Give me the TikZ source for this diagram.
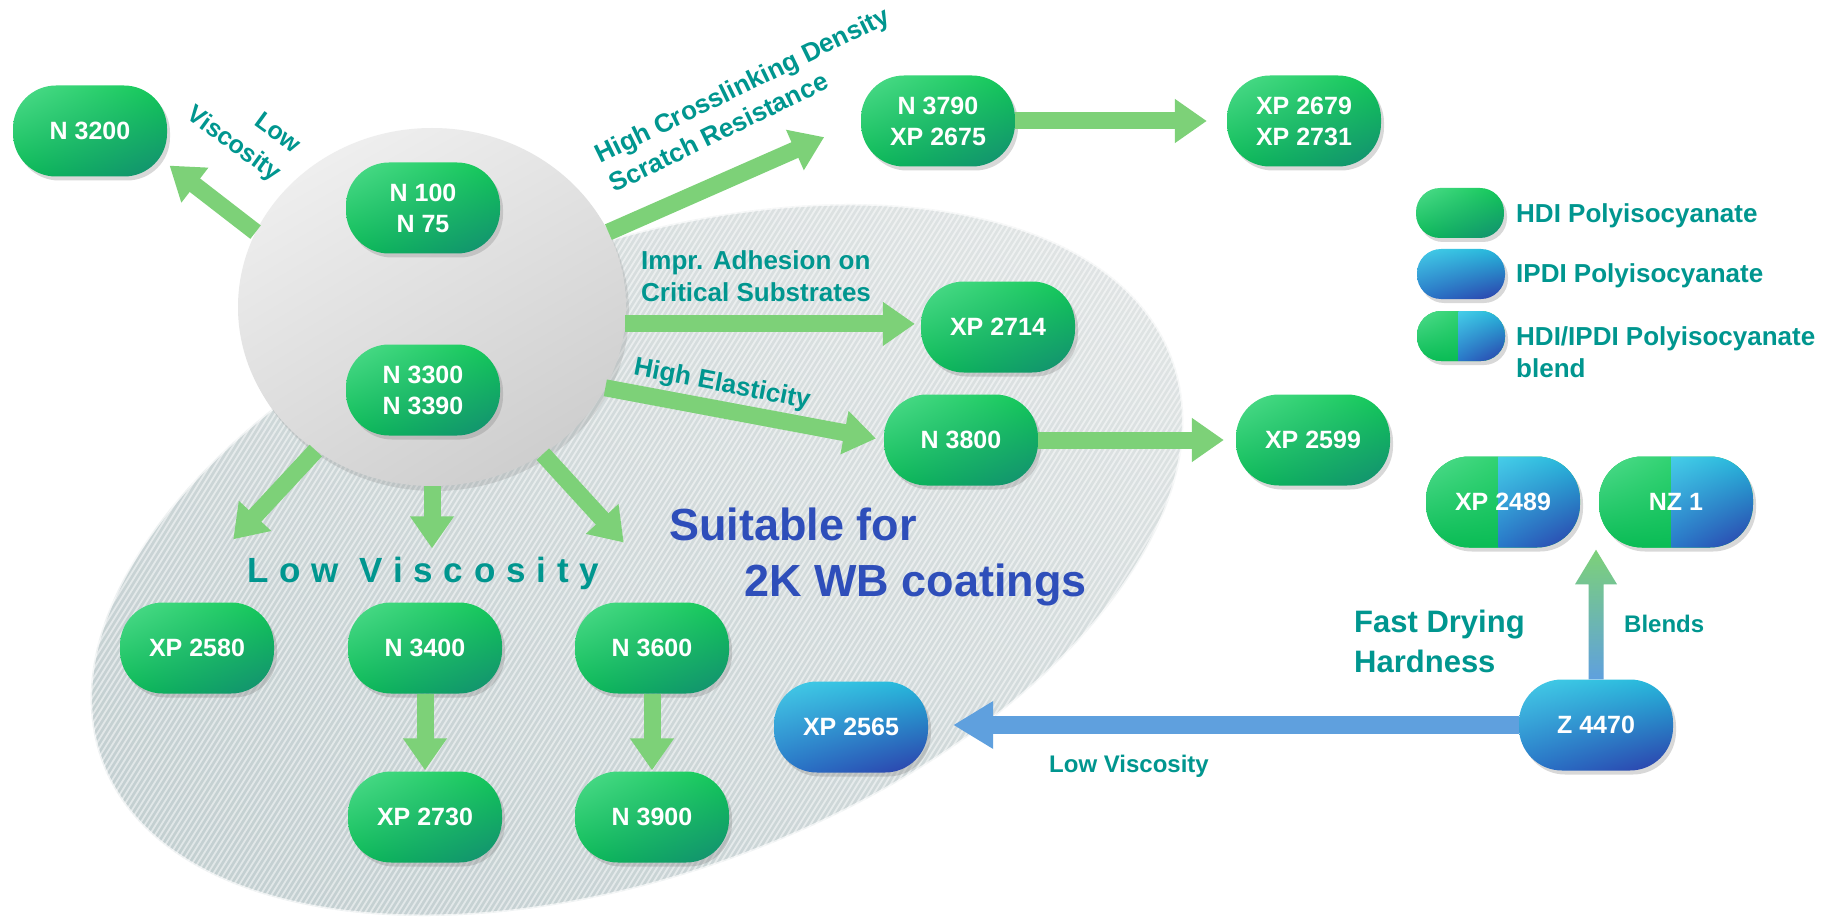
\documentclass[tikz,border=0pt]{standalone}
\usepackage{fontspec}
\setmainfont{Liberation Sans}
\usetikzlibrary{arrows.meta,shapes.geometric,shadows,shadings,calc}

\definecolor{teal1}{RGB}{0,150,143}
\definecolor{suitblue}{RGB}{46,78,186}
\definecolor{garr}{RGB}{125,209,120}
\definecolor{barr}{RGB}{95,160,222}
\definecolor{gUL}{RGB}{80,220,140}
\definecolor{gUR}{RGB}{15,200,85}
\definecolor{gLL}{RGB}{10,188,85}
\definecolor{gLR}{RGB}{20,140,115}
\definecolor{bUL}{RGB}{70,205,232}
\definecolor{bUR}{RGB}{35,182,218}
\definecolor{bLL}{RGB}{40,120,200}
\definecolor{bLR}{RGB}{45,60,170}
\definecolor{rUL}{RGB}{206,215,216}
\definecolor{rUR}{RGB}{228,231,231}
\definecolor{rLL}{RGB}{192,205,207}
\definecolor{rLR}{RGB}{208,217,218}
\definecolor{hUL}{RGB}{244,244,244}
\definecolor{hUR}{RGB}{228,228,228}
\definecolor{hLL}{RGB}{218,218,218}
\definecolor{hLR}{RGB}{200,200,200}

\begin{document}
\begin{tikzpicture}[x=1pt,y=-1pt,
  pill/.style={rounded corners=43pt, minimum width=154pt, minimum height=91pt,
    inner sep=0pt, text=white, align=center,
    font=\fontsize{25}{31}\selectfont\bfseries,
    drop shadow={opacity=0.3, shadow xshift=3pt, shadow yshift=-4pt}},
  gpill/.style={pill, upper left=gUL, upper right=gUR, lower left=gLL, lower right=gLR},
  bpill/.style={pill, upper left=bUL, upper right=bUR, lower left=bLL, lower right=bLR},
  mpill/.style={pill, fill=gUR, path picture={
      \shade[sharp corners, upper left=gUL, upper right=gUR, lower left=gLL, lower right=gLL]
        (path picture bounding box.north west) rectangle ($(path picture bounding box.south west)!0.47!(path picture bounding box.south east)$);
      \shade[sharp corners, upper left=bUL, upper right=bUR, lower left=bLL, lower right=bLR]
        ($(path picture bounding box.north west)!0.47!(path picture bounding box.north east)$) rectangle (path picture bounding box.south east);}},
  mini/.style={minimum width=88pt, minimum height=50pt, rounded corners=24pt},
  garrow/.style={draw=garr, line width=17pt, -{Triangle[width=42pt,length=32pt]}},
  barrow/.style={draw=barr, line width=18pt, -{Triangle[width=45pt,length=40pt]}},
  lbl/.style={text=teal1, font=\fontsize{26}{32}\selectfont\bfseries, inner sep=0pt},
]
\useasboundingbox (0,0) rectangle (1845,920);
\fill[white] (0,0) rectangle (1845,920);

% hatched region
\begin{scope}
  \clip[rotate around={20.75:(637,560)}] (637,560) ellipse [x radius=572, y radius=313];
  \shade[upper left=rUL, upper right=rUR, lower left=rLL, lower right=rLR] (40,180) rectangle (1240,930);
  \foreach \k in {-460,-454.5,...,1240}
    \draw[white, opacity=0.5, line width=1.8pt] (\k,930) -- ++(475,-760);
\end{scope}
\draw[white, opacity=0.7, line width=3pt, rotate around={20.75:(637,560)}] (637,560) ellipse [x radius=572, y radius=313];

% hub
\node[ellipse, minimum width=388pt, minimum height=358pt, inner sep=0pt,
  upper left=hUL, upper right=hUR, lower left=hLL, lower right=hLR,
  drop shadow={opacity=0.22, shadow xshift=3pt, shadow yshift=-5pt}] (hub) at (432,307) {};

% product pills
\node[gpill] (n3200) at (90,131) {N 3200};
\node[gpill] (n100) at (423,208) {N 100\\N 75};
\node[gpill] (n3300) at (423,390) {N 3300\\N 3390};
\node[gpill] (n3790) at (938,121) {N 3790\\XP 2675};
\node[gpill] (xp2679) at (1304,121) {XP 2679\\XP 2731};
\node[gpill] (xp2714) at (998,327) {XP 2714};
\node[gpill] (n3800) at (961,440) {N 3800};
\node[gpill] (xp2599) at (1313,440) {XP 2599};
\node[gpill] (xp2580) at (197,648) {XP 2580};
\node[gpill] (n3400) at (425,648) {N 3400};
\node[gpill] (n3600) at (652,648) {N 3600};
\node[gpill] (xp2730) at (425,817) {XP 2730};
\node[gpill] (n3900) at (652,817) {N 3900};
\node[bpill] (xp2565) at (851,727) {XP 2565};
\node[bpill] (z4470) at (1596,725) {Z 4470};
\node[mpill] (xp2489) at (1503,502) {XP 2489};
\node[mpill] (nz1) at (1676,502) {NZ 1};

% legend
\node[gpill, mini] (lg1) at (1460,213) {};
\node[bpill, mini] (lg2) at (1461,274) {};
\node[mpill, mini] (lg3) at (1461,336) {};
\node[lbl, anchor=base west] (lt1) at (1516,223) {HDI Polyisocyanate};
\node[lbl, anchor=base west] (lt2) at (1516,282) {IPDI Polyisocyanate};
\node[lbl, anchor=north west, align=left] (lt3) at (1516,326) {HDI/IPDI Polyisocyanate\\blend};

% arrows
\draw[garrow, shorten >=3pt] (hub.157) -- (n3200.-23);
\draw[garrow, shorten >=40pt] (hub.23) -- (n3790.west);
\draw[garrow, shorten >=6pt] (hub.-5) -- (hub.-5 -| xp2714.west);
\draw[garrow, shorten >=8pt] (hub.-25) -- (n3800.west);
\draw[garrow, shorten >=20pt] (n3790.east) -- (xp2679.west);
\draw[garrow, shorten >=12pt] (n3800.east) -- (xp2599.west);
\draw[garrow, shorten >=86pt] (hub.-129) -- (xp2580.116);
\draw[garrow, shorten >=54pt] (hub.south) -- (hub.south |- n3400.north);
\draw[garrow, shorten >=81pt] (hub.-53) -- (n3600.60);
\draw[garrow, shorten >=1pt] (n3400.south) -- (xp2730.north);
\draw[garrow, shorten >=1pt] (n3600.south) -- (n3900.north);
\draw[barrow, shorten >=25pt] (z4470.west) -- (z4470.west -| xp2565.east);
\shade[top color=garr, bottom color=barr]
  ($(z4470.north)+(-7.5,0)$) -- ++(0,-95) -- ++(-13.5,0)
  -- ($(z4470.north |- xp2489.south)+(0,2)$)
  -- ($(z4470.north)+(21,-95)$) -- ++(-13.5,0) -- ($(z4470.north)+(7.5,0)$) -- cycle;

% labels
\node[lbl, rotate=-36, align=right, font=\fontsize{25}{34}\selectfont\bfseries] (llv1) at (243,131) {Low\\Viscosity};
\node[lbl, rotate=26, align=left] (lcross) at (749,99) {High Crosslinking Density\\Scratch Resistance};
\node[lbl, anchor=north west, align=left] (ladh) at (641,250) {Impr. Adhesion on\\Critical Substrates};
\node[lbl, rotate=-11] (lel) at (722,385) {High Elasticity};
\node[text=teal1, inner sep=0pt, anchor=base west,
  font=\fontsize{35}{40}\selectfont\bfseries\addfontfeatures{LetterSpace=31}] (llv2) at (247,582) {Low Viscosity};
\node[text=suitblue, inner sep=0pt, anchor=north west, align=left,
  font=\fontsize{45}{56}\selectfont\bfseries] (lsuit) at (669,508) {Suitable for\\\hspace*{75pt}2K WB coatings};
\node[lbl, anchor=north west, align=left, font=\fontsize{31}{40}\selectfont\bfseries] (lfast) at (1354,610) {Fast Drying\\Hardness};
\node[lbl, anchor=base west, font=\fontsize{24}{30}\selectfont\bfseries] (lblend) at (1624,632) {Blends};
\node[lbl, anchor=base west, font=\fontsize{24}{30}\selectfont\bfseries] (llv3) at (1049,772) {Low Viscosity};
\end{tikzpicture}
\end{document}
